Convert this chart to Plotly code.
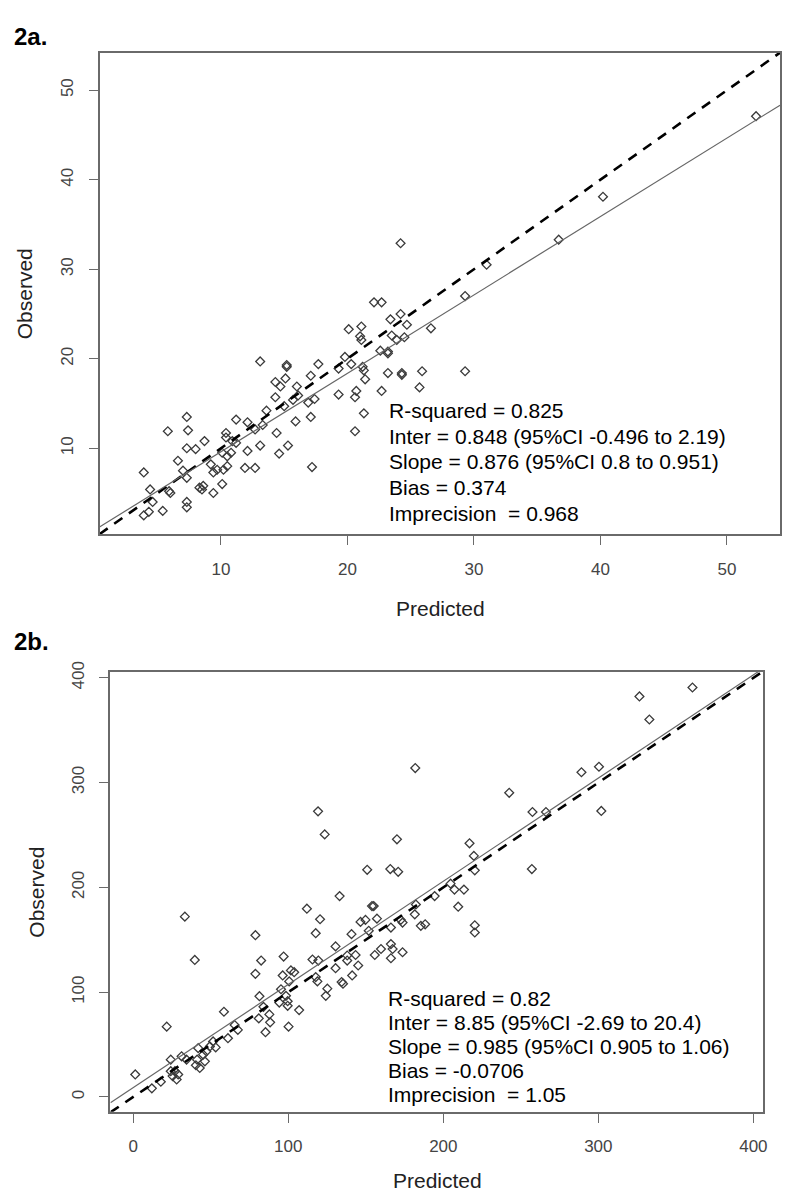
import plotly.graph_objects as go

# ---------------- Data ----------------
# Panel 2a: predicted vs observed
a_pred = [3.9, 4.4, 4.6, 3.9, 4.3, 5.4, 5.9, 6.0, 5.8, 6.6, 7.0, 7.3, 7.3, 7.3, 7.3, 7.4, 7.3, 8.0,
          8.3, 8.6, 8.5, 8.7, 9.2, 9.4, 9.7, 9.4, 10.1, 10.2, 10.5, 10.1, 10.8, 10.5, 10.4, 10.4,
          10.9, 11.2, 11.2, 11.9, 12.7, 12.1, 12.1, 12.7, 13.3, 13.1, 13.1, 13.6, 14.3, 15.1, 14.7,
          14.3, 14.4, 14.6, 15.0, 15.2, 15.2, 15.3, 15.9, 16.0, 16.1, 15.7, 16.9, 17.4, 17.1, 17.7,
          17.1, 17.2, 19.3, 19.3, 19.8, 20.1, 20.6, 20.3, 21.2, 21.3, 21.4, 20.7, 20.6, 21.3, 21.1,
          21.0, 21.1, 22.1, 22.7, 22.6, 22.7, 23.2, 23.2, 23.2, 23.4, 23.5, 23.9, 24.5, 24.2, 24.7,
          24.2, 24.3, 24.3, 25.9, 25.7, 26.6, 29.3, 29.3, 31.0, 36.7, 40.2, 52.3]
a_obs = [7.3, 5.4, 4.0, 2.5, 2.9, 3.0, 5.2, 5.0, 11.9, 8.6, 7.5, 6.7, 4.0, 3.4, 13.5, 12.0, 10.0, 9.9,
         5.6, 5.8, 5.4, 10.8, 8.2, 7.3, 7.6, 5.0, 6.0, 7.6, 8.0, 9.5, 9.5, 9.1, 11.7, 11.2,
         10.8, 10.6, 13.2, 7.8, 7.8, 12.9, 9.7, 12.1, 12.6, 10.3, 19.7, 14.2, 17.4, 17.8, 16.9,
         15.7, 11.7, 9.4, 14.7, 19.1, 19.3, 10.3, 13.0, 16.9, 15.9, 15.4, 15.1, 15.5, 18.1, 19.4,
         13.5, 7.9, 16.0, 18.9, 20.2, 23.3, 11.9, 19.4, 19.1, 18.7, 17.7, 16.4, 15.7, 13.9, 23.6,
         22.5, 22.1, 26.3, 26.3, 20.9, 16.4, 20.8, 20.6, 18.4, 24.4, 22.6, 22.1, 22.4, 25.0, 23.8,
         32.9, 18.4, 18.2, 18.6, 16.8, 23.4, 27.0, 18.6, 30.5, 33.3, 38.1, 47.1]

# Panel 2b: predicted vs observed
b_pred = [1.3, 12, 17.8, 21.6, 24.2, 24.2, 25.4, 26.9, 29, 28, 31.2, 34.4, 33.3, 39.7, 41.9, 45.1,
          41.2, 46.2, 40.4, 42.9, 51.5, 49.4, 53.2, 47.2, 58.5, 65.4, 67.5, 61.1, 78.8, 82.5, 78.8,
          81.4, 84, 87.8, 81, 88.3, 85.3, 97, 96.4, 101.7, 103.8, 100.6, 95.3, 98.5, 99.6, 94.2,
          99.6, 107, 100.2, 112, 120.5, 117.7, 119.2, 123.5, 115.6, 119.4, 117.7, 118.8, 125.2,
          124.2, 130.5, 130.5, 134.4, 135.3, 133.1, 138, 138, 143.4, 141.2, 145.1, 140.8, 146.6,
          149.8, 150.9, 151.9, 154, 155.1, 157.2, 155.8, 159.8, 166.2, 167.3, 166.2, 173.7, 166.2,
          172.6, 173.7, 165.8, 170.9, 170.1, 181.6, 182.3, 181.9, 185.5, 188.3, 194.4, 204.7, 207.2,
          213.3, 209.6, 216.9, 219.7, 220.3, 220.3, 220.3, 242.5, 257.5, 266.2, 257.1, 289.1, 300.4,
          301.9, 326.5, 332.9, 360.7]
b_obs = [21.5, 8.2, 14.5, 67.1, 35.6, 24.6, 19.9, 24.6, 21.5, 16.7, 38.8, 35.6, 172.1, 130.8, 46.6,
         40.4, 35.6, 34, 30.3, 27.7, 53, 48.2, 47.3, 43.5, 81.3, 68.7, 64, 56.1, 154.4, 130.2,
         117.5, 96.2, 86, 78.8, 75, 71.2, 61.8, 134, 116, 120.8, 119.1, 110.3, 102.8, 96.5, 91.4,
         90.1, 87, 82.9, 67.1, 179.7, 169.6, 156.3, 272.6, 250.6, 131.2, 130.2, 114.4, 110.3, 103.4,
         96.5, 143.7, 122.9, 109.7, 108.1, 191.7, 135, 130.2, 135.5, 116, 125.5, 155.4, 167.1,
         169, 216.8, 158.6, 182.2, 182.2, 170.2, 135.5, 141.2, 145.9, 141.2, 132.4, 138.1, 161.7,
         169, 166.4, 217.5, 214.9, 245.9, 174.3, 183.7, 313.9, 163.3, 164.8, 191.7, 203.6, 197.9,
         197.9, 181.6, 242.1, 230.1, 216.3, 163.9, 157, 290.3, 272, 272, 217.5, 309.9, 315.2,
         273, 382.3, 360.3, 390.8]

# Regression coefficients (from the printed statistics)
a_inter, a_slope = 0.848, 0.876
b_inter, b_slope = 8.85, 0.985

a_stats = ["R-squared = 0.825",
           "Inter = 0.848 (95%CI -0.496 to 2.19)",
           "Slope = 0.876 (95%CI 0.8 to 0.951)",
           "Bias = 0.374",
           "Imprecision  = 0.968"]
b_stats = ["R-squared = 0.82",
           "Inter = 8.85 (95%CI -2.69 to 20.4)",
           "Slope = 0.985 (95%CI 0.905 to 1.06)",
           "Bias = -0.0706",
           "Imprecision  = 1.05"]

a_ticks = [10, 20, 30, 40, 50]
b_ticks = [0, 100, 200, 300, 400]

a_range = [0.4, 54.2]
b_range_x = [-14.7, 406.3]
b_range_y = [-14.2, 405.7]

# ---------------- Layout helpers ----------------
W, H = 800, 1203
def fx(px):
    return px / W
def fy(py):
    return 1 - py / H

FONT = "Liberation Sans, Arial, sans-serif"
TICKC = "#444444"
BOXC = "#6a6a6a"

fig = go.Figure()

def add_panel(xs, ys, inter, slope, xr, yr, xa, ya):
    fig.add_trace(go.Scatter(x=xs, y=ys, mode="markers", xaxis=xa, yaxis=ya,
                             marker=dict(symbol="diamond-open", size=6.8, color="#3a3a3a",
                                         line=dict(width=1.3, color="#3a3a3a")),
                             showlegend=False, hoverinfo="x+y"))
    # identity line (dashed)
    lo, hi = min(xr[0], yr[0]), max(xr[1], yr[1])
    fig.add_trace(go.Scatter(x=[lo, hi], y=[lo, hi], mode="lines", xaxis=xa, yaxis=ya,
                             line=dict(color="black", width=2.6, dash="10px,8px"),
                             showlegend=False, hoverinfo="skip"))
    # fitted regression line (solid grey)
    fig.add_trace(go.Scatter(x=[xr[0], xr[1]], y=[inter + slope * xr[0], inter + slope * xr[1]],
                             mode="lines", xaxis=xa, yaxis=ya,
                             line=dict(color="#666666", width=1.2),
                             showlegend=False, hoverinfo="skip"))

add_panel(a_pred, a_obs, a_inter, a_slope, a_range, a_range, "x", "y")
add_panel(b_pred, b_obs, b_inter, b_slope, b_range_x, b_range_y, "x2", "y2")

axis_common = dict(showgrid=False, zeroline=False, showline=True, linecolor=BOXC, linewidth=2,
                   mirror=True, ticks="outside", ticklen=9, tickwidth=1.3, tickcolor=BOXC,
                   tickfont=dict(family=FONT, size=17, color=TICKC), ticklabelstandoff=9)

fig.update_layout(
    width=W, height=H, margin=dict(l=0, r=0, t=0, b=0),
    paper_bgcolor="white", plot_bgcolor="white",
    xaxis=dict(domain=[fx(100), fx(784)], range=a_range, tickvals=a_ticks, anchor="y", **axis_common),
    yaxis=dict(domain=[fy(528), fy(42)], range=a_range, tickvals=a_ticks, anchor="x", tickangle=-90, **axis_common),
    xaxis2=dict(domain=[fx(111), fx(767)], range=b_range_x, tickvals=b_ticks, anchor="y2", **axis_common),
    yaxis2=dict(domain=[fy(1111), fy(667)], range=b_range_y, tickvals=b_ticks, anchor="x2", tickangle=-90, **axis_common),
)

ann = []
# panel labels
ann.append(dict(text="<b>2a.</b>", x=fx(12), y=fy(26), xanchor="left", yanchor="middle",
                font=dict(family=FONT, size=24, color="black")))
ann.append(dict(text="<b>2b.</b>", x=fx(12), y=fy(636), xanchor="left", yanchor="middle",
                font=dict(family=FONT, size=24, color="black")))
# axis titles
for xc, yc, t, ang in [(443, 603, "Predicted", 0), (25, 285, "Observed", -90),
                       (440, 1180, "Predicted", 0), (37, 889, "Observed", -90)]:
    ann.append(dict(text=t, x=fx(xc), y=fy(yc), xanchor="center", yanchor="middle",
                    textangle=ang, font=dict(family=FONT, size=21, color="#222222")))
# statistics text
for i, t in enumerate(a_stats):
    ann.append(dict(text=t, x=fx(389), y=fy(403 + 26 * i), xanchor="left", yanchor="middle",
                    font=dict(family=FONT, size=21, color="black")))
for i, t in enumerate(b_stats):
    ann.append(dict(text=t, x=fx(388), y=fy(997 + 24 * i), xanchor="left", yanchor="middle",
                    font=dict(family=FONT, size=21, color="black")))
for a in ann:
    a.update(xref="paper", yref="paper", showarrow=False)
fig.update_layout(annotations=ann)

fig.write_html("out.html", config={"displayModeBar": False},
               post_script="document.body.style.margin='0';document.body.style.overflow='hidden';")
